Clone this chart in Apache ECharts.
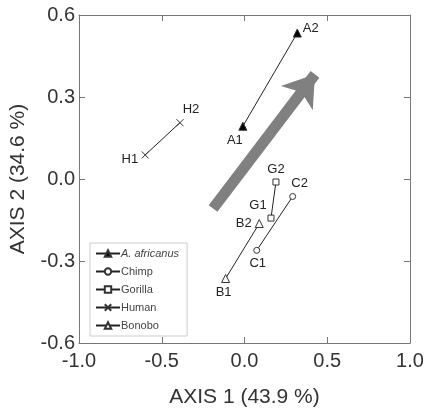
<!DOCTYPE html>
<html>
<head>
<meta charset="utf-8">
<script src="https://cdn.jsdelivr.net/npm/echarts@6/dist/echarts.min.js"></script>
<style>
  html, body { margin: 0; padding: 0; background: #fff; }
  #chart { width: 430px; height: 413px; }
</style>
</head>
<body>
<div id="chart"></div>
<script>
// 各组数据（AXIS 1, AXIS 2）
var groupNames = ['A. africanus', 'Chimp', 'Gorilla', 'Human', 'Bonobo'];
var africanusPts = [[-0.01, 0.193], [0.319, 0.534]];
var chimpPts = [[0.074, -0.261], [0.291, -0.064]];
var gorillaPts = [[0.16, -0.143], [0.19, -0.011]];
var humanPts = [[-0.60, 0.088], [-0.39, 0.206]];
var bonoboPts = [[-0.114, -0.364], [0.089, -0.163]];
var africanusLbl = ['A1', 'A2'];
var chimpLbl = ['C1', 'C2'];
var gorillaLbl = ['G1', 'G2'];
var humanLbl = ['H1', 'H2'];
var bonoboLbl = ['B1', 'B2'];
// 灰色大箭头 起点/终点
var arrowPts = [[-0.19, -0.108], [0.426, 0.383]];

var FONT = '"Liberation Sans", Arial, sans-serif';
var crossPath = 'path://M0,0 L10,10 M10,0 L0,10';

// 标签位置: [position, offset]
function makeData(pts, lbls, places) {
    var out = [];
    for (var i = 0; i < pts.length; i++) {
        out.push({
            value: pts[i],
            label: { show: true, formatter: lbls[i], position: places[i][0], offset: places[i][1] }
        });
    }
    return out;
}

function makeSeries(name, pts, lbls, places, symbol, size, filled) {
    return {
        name: name,
        type: 'line',
        data: makeData(pts, lbls, places),
        symbol: symbol,
        symbolSize: size,
        showAllSymbol: true,
        lineStyle: { color: '#222', width: 1 },
        itemStyle: {
            color: filled ? '#000' : '#fff',
            borderColor: '#333',
            borderWidth: 1
        },
        label: {
            color: '#222',
            fontSize: 13,
            fontFamily: FONT,
            distance: 3
        },
        emphasis: { disabled: true },
        z: 5
    };
}

var myChart = echarts.init(document.getElementById('chart'));

var axisStyle = {
    axisLine: { show: true, onZero: false, lineStyle: { color: '#777', width: 1 } },
    axisTick: { show: true, inside: true, length: 6, lineStyle: { color: '#777' } },
    splitLine: { show: false }
};

myChart.setOption({
    animation: false,
    grid: { left: 79, right: 20, top: 15, bottom: 66 },
    xAxis: [
        Object.assign({
            type: 'value', min: -1, max: 1, interval: 0.5,
            name: 'AXIS 1 (43.9 %)', nameLocation: 'middle', nameGap: 44,
            nameTextStyle: { fontSize: 21, color: '#333', fontFamily: FONT },
            axisLabel: {
                fontSize: 20, color: '#333', fontFamily: FONT, margin: 8,
                formatter: function (v) { return v.toFixed(1); }
            }
        }, axisStyle),
        Object.assign({
            type: 'value', min: -1, max: 1, interval: 0.5, position: 'top',
            axisLabel: { show: false }
        }, axisStyle)
    ],
    yAxis: [
        Object.assign({
            type: 'value', min: -0.6, max: 0.6, interval: 0.3,
            name: 'AXIS 2 (34.6 %)', nameLocation: 'middle', nameGap: 50,
            nameTextStyle: { fontSize: 21, color: '#333', fontFamily: FONT },
            axisLabel: {
                fontSize: 20, color: '#333', fontFamily: FONT, margin: 4,
                formatter: function (v) { return v.toFixed(1); }
            }
        }, axisStyle),
        Object.assign({
            type: 'value', min: -0.6, max: 0.6, interval: 0.3, position: 'right',
            axisLabel: { show: false }
        }, axisStyle)
    ],
    legend: {
        orient: 'vertical',
        left: 90, top: 243,
        padding: [5, 8, 5, 5],
        itemGap: 7,
        itemWidth: 24, itemHeight: 8,
        backgroundColor: '#fff',
        borderColor: '#ccc',
        borderWidth: 1,
        borderRadius: 0,
        data: groupNames,
        formatter: function (n) {
            return n === 'A. africanus' ? '{i|' + n + '}' : n;
        },
        textStyle: {
            fontSize: 11, color: '#444', fontFamily: FONT, padding: [0, 0, 0, -4],
            rich: { i: { fontStyle: 'italic', fontSize: 11, color: '#444', fontFamily: FONT } }
        }
    },
    series: [
        makeSeries(groupNames[0], africanusPts, africanusLbl,
            [['bottom', [-8, 0]], ['right', [-2, -5]]], 'triangle', 8, true),
        makeSeries(groupNames[1], chimpPts, chimpLbl,
            [['bottom', [1, 0]], ['top', [7, 0]]], 'circle', 6, false),
        makeSeries(groupNames[2], gorillaPts, gorillaLbl,
            [['top', [-13, 0]], ['top', [0, 0]]], 'rect', 6, false),
        makeSeries(groupNames[3], humanPts, humanLbl,
            [['left', [0, 4]], ['top', [11, 0]]], crossPath, 7, false),
        makeSeries(groupNames[4], bonoboPts, bonoboLbl,
            [['bottom', [-2, 0]], ['left', [0, 0]]], 'triangle', 8, false),
        {
            name: 'arrow',
            type: 'line',
            data: [],
            silent: true,
            markLine: {
                silent: true,
                symbol: ['none', 'arrow'],
                symbolSize: [30, 30],
                label: { show: false },
                lineStyle: { color: '#808080', width: 11, type: 'solid' },
                data: [[{ coord: arrowPts[0] }, { coord: arrowPts[1] }]]
            },
            z: 2
        }
    ]
});
</script>
</body>
</html>
